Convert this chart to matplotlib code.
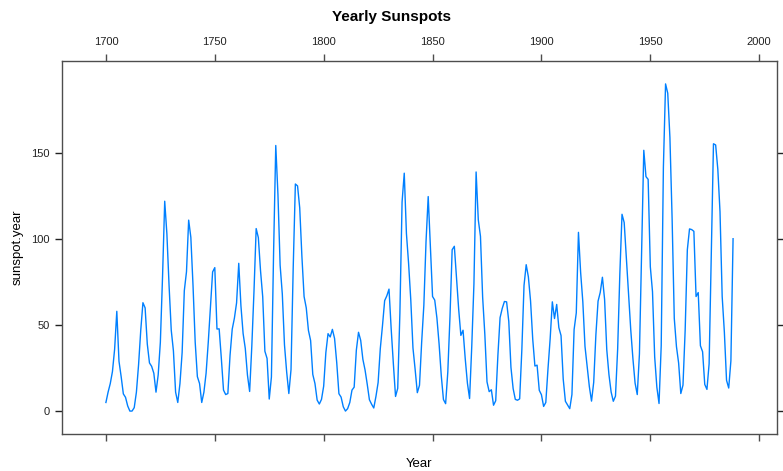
import numpy as np
import matplotlib
matplotlib.use("Agg")
import matplotlib.pyplot as plt

plt.rcParams['font.family'] = ['Liberation Sans', 'DejaVu Sans']

# yearly mean sunspot numbers, 1700-1988
years = np.arange(1700, 1989)
sunspots = [
    5, 11, 16, 23, 36, 58, 29, 20, 10, 8,
    3, 0, 0, 2, 11, 27, 47, 63, 60, 39,
    28, 26, 22, 11, 21, 40, 78, 122, 103, 73,
    47, 35, 11, 5, 16, 34, 70, 81, 111, 101,
    73, 40, 20, 16, 5, 11, 22, 40, 60, 80.9,
    83.4, 47.7, 47.8, 30.7, 12.2, 9.6, 10.2, 32.4, 47.6, 54.0,
    62.9, 85.9, 61.2, 45.1, 36.4, 20.9, 11.4, 37.8, 69.8, 106.1,
    100.8, 81.6, 66.5, 34.8, 30.6, 7.0, 19.8, 92.5, 154.4, 125.9,
    84.8, 68.1, 38.5, 22.8, 10.2, 24.1, 82.9, 132.0, 130.9, 118.1,
    89.9, 66.6, 60.0, 46.9, 41.0, 21.3, 16.0, 6.4, 4.1, 6.8,
    14.5, 34.0, 45.0, 43.1, 47.5, 42.2, 28.1, 10.1, 8.1, 2.5,
    0.0, 1.4, 5.0, 12.2, 13.9, 35.4, 45.8, 41.1, 30.1, 23.9,
    15.6, 6.6, 4.0, 1.8, 8.5, 16.6, 36.3, 49.6, 64.2, 67.0,
    70.9, 47.8, 27.5, 8.5, 13.2, 56.9, 121.5, 138.3, 103.2, 85.7,
    64.6, 36.7, 24.2, 10.7, 15.0, 40.1, 61.5, 98.5, 124.7, 96.3,
    66.6, 64.5, 54.1, 39.0, 20.6, 6.7, 4.3, 22.7, 54.8, 93.8,
    95.8, 77.2, 59.1, 44.0, 47.0, 30.5, 16.3, 7.3, 37.6, 74.0,
    139.0, 111.2, 101.6, 66.2, 44.7, 17.0, 11.3, 12.4, 3.4, 6.0,
    32.3, 54.3, 59.7, 63.7, 63.5, 52.2, 25.4, 13.1, 6.8, 6.3,
    7.1, 35.6, 73.0, 85.1, 78.0, 64.0, 41.8, 26.2, 26.7, 12.1,
    9.5, 2.7, 5.0, 24.4, 42.0, 63.5, 53.8, 62.0, 48.5, 43.9,
    18.6, 5.7, 3.6, 1.4, 9.6, 47.4, 57.1, 103.9, 80.6, 63.6,
    37.6, 26.1, 14.2, 5.8, 16.7, 44.3, 63.9, 69.0, 77.8, 64.9,
    35.7, 21.2, 11.1, 5.7, 8.7, 36.1, 79.7, 114.4, 109.6, 88.8,
    67.8, 47.5, 30.6, 16.3, 9.6, 33.2, 92.6, 151.6, 136.3, 134.7,
    83.9, 69.4, 31.5, 13.9, 4.4, 38.0, 141.7, 190.2, 184.8, 159.0,
    112.3, 53.9, 37.5, 27.9, 10.2, 15.1, 47.0, 93.8, 105.9, 105.5,
    104.5, 66.6, 68.9, 38.0, 34.5, 15.5, 12.6, 27.5, 92.5, 155.4,
    154.7, 140.5, 115.9, 66.6, 45.9, 17.9, 13.4, 29.2, 100.2,
]
x_ticks = [1700, 1750, 1800, 1850, 1900, 1950, 2000]
y_ticks = [0, 50, 100, 150]

fig = plt.figure(figsize=(7.83, 4.71), dpi=100)
ax = fig.add_axes([0.0792, 0.0786, 0.9131, 0.7919])
ax.plot(years, sunspots, color='#0080ff', linewidth=1.0)

# lattice-style padding of 7% on each side
xr = years[-1] - years[0]
yr = max(sunspots) - min(sunspots)
ax.set_xlim(years[0] - 0.07 * xr, years[-1] + 0.07 * xr)
ax.set_ylim(min(sunspots) - 0.07 * yr, max(sunspots) + 0.07 * yr)

for s in ax.spines.values():
    s.set_color('#4d4d4d')
    s.set_linewidth(1.0)

ax.set_xticks(x_ticks)
ax.set_yticks(y_ticks)
ax.tick_params(axis='x', top=True, bottom=True, labeltop=True, labelbottom=False,
               direction='out', length=5, width=1, color='#4d4d4d',
               labelsize=8, pad=5, labelcolor='#222222')
ax.tick_params(axis='y', left=True, right=True, labelleft=True, labelright=False,
               direction='out', length=5, width=1, color='#222222',
               labelsize=8, pad=4, labelcolor='#222222')

ax.set_xlabel('Year', fontsize=9.5, labelpad=12)
ax.set_ylabel('sunspot.year', fontsize=9.5, labelpad=5)
fig.suptitle('Yearly Sunspots', fontsize=11, fontweight='bold', y=0.978)

fig.savefig('out.png', dpi=100)
